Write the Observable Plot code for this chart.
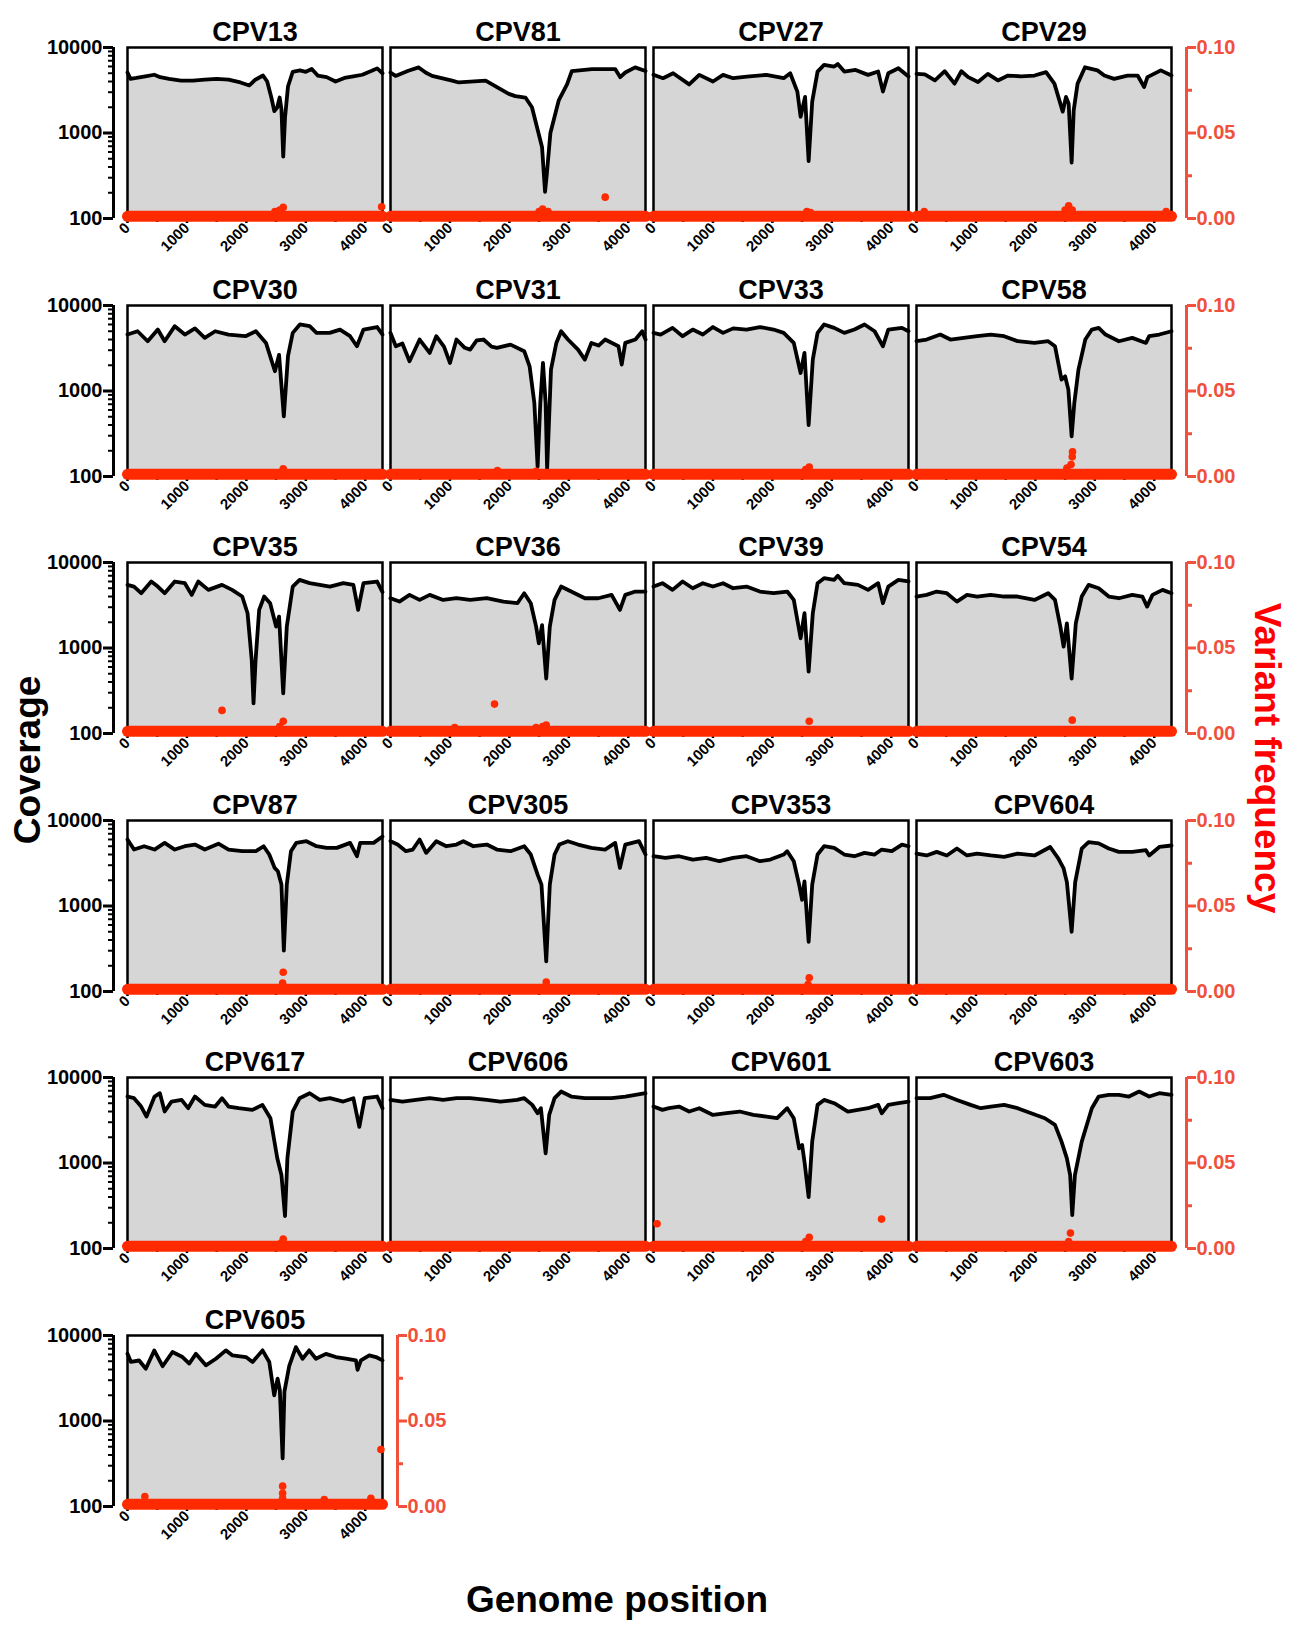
<!DOCTYPE html>
<html><head><meta charset="utf-8">
<script src="https://cdn.jsdelivr.net/npm/d3@7"></script>
<script src="https://cdn.jsdelivr.net/npm/@observablehq/plot@0.6"></script>
<style>
body{margin:0;background:#fff;}
#wrap{position:relative;width:1297px;height:1634px;overflow:hidden;font-family:"Liberation Sans",Arial,Helvetica,sans-serif;font-weight:bold;background:#fff;}
.p{position:absolute;}
.lab{position:absolute;white-space:nowrap;font-weight:bold;font-family:"Liberation Sans",Arial,Helvetica,sans-serif;}
</style></head><body><div id="wrap"></div>
<script>
// ---- coverage series: [genome position, coverage] ----
const CPV13 = [[0,5100],[50,4300],[150,4400],[300,4600],[450,4800],[550,4500],[700,4300],[900,4100],[1100,4100],[1300,4200],[1500,4300],[1700,4200],[1900,3900],[2050,3600],[2150,4200],[2280,4700],[2350,4000],[2420,2600],[2470,1800],[2520,2000],[2560,2600],[2590,1900],[2620,530],[2650,1500],[2700,3500],[2780,5200],[2900,5400],[3000,5200],[3100,5600],[3200,4700],[3350,4500],[3500,4000],[3650,4400],[3800,4600],[3950,4800],[4100,5300],[4200,5700],[4290,5000]];
const CPV81 = [[0,5100],[85,4650],[300,5350],[475,5850],[590,5100],[700,4650],[1036,4100],[1150,3900],[1600,4100],[1820,3350],[1990,2870],[2100,2700],[2270,2600],[2380,2000],[2465,1170],[2550,680],[2600,205],[2630,330],[2690,1000],[2830,2400],[2970,3700],[3050,5300],[3390,5600],[3780,5600],[3865,4500],[3950,5100],[4115,5850],[4290,5300]];
const CPV27 = [[0,4800],[160,4375],[330,5000],[600,3700],[770,4785],[1000,4000],[1170,4785],[1340,4375],[1570,4575],[1900,4785],[2190,4375],[2300,5000],[2420,3050],[2475,1550],[2550,2650],[2610,470],[2670,2330],[2760,5230],[2870,6270],[3040,5990],[3100,6400],[3210,5230],[3400,5470],[3610,4785],[3780,5230],[3860,3050],[3950,5000],[4120,5730],[4290,4575]];
const CPV29 = [[0,4920],[140,4850],[310,4120],[475,5280],[640,3780],[755,5280],[870,4500],[1035,3950],[1200,4920],[1370,4120],[1540,4700],[1760,4600],[1985,4700],[2180,5150],[2320,3780],[2460,1780],[2515,2640],[2560,2200],[2610,450],[2645,1850],[2710,3780],[2835,5870],[3045,5400],[3160,4700],[3325,4300],[3550,4700],[3720,4700],[3830,3450],[3885,4500],[4110,5400],[4290,4700]];
const CPV30 = [[0,4575],[170,5000],[340,3820],[510,5230],[625,3820],[795,5730],[965,4575],[1135,5400],[1300,4180],[1475,5000],[1700,4575],[1985,4375],[2160,5000],[2330,3650],[2480,1700],[2550,2650],[2630,505],[2700,2550],[2780,4785],[2900,6000],[3065,5730],[3180,4785],[3400,4785],[3575,5230],[3745,4375],[3860,3340],[3970,5230],[4200,5600],[4290,4575]];
const CPV31 = [[0,4785],[90,3340],[200,3600],[320,2230],[490,4000],[660,2790],[770,4375],[900,3300],[1000,2130],[1110,4000],[1250,3200],[1340,3050],[1450,3900],[1565,4000],[1700,3300],[1790,3190],[2020,3490],[2250,2920],[2340,1945],[2420,723],[2475,130],[2520,723],[2565,2130],[2610,723],[2635,120],[2700,1780],[2790,3650],[2870,5000],[2985,4000],[3155,3050],[3270,2330],[3380,3650],[3500,3400],[3610,4000],[3835,3340],[3890,2040],[3950,3650],[4120,4000],[4235,5000],[4290,4000]];
const CPV33 = [[0,4785],[120,4575],[320,5470],[490,4375],[660,5230],[830,4575],[1000,5600],[1170,4785],[1340,5400],[1565,5230],[1790,5600],[2020,5230],[2190,4785],[2360,3650],[2475,1625],[2540,2790],[2610,400],[2680,2330],[2760,4785],[2870,6000],[3040,5470],[3210,4785],[3380,5230],[3550,6000],[3720,5000],[3860,3340],[3950,5230],[4180,5470],[4290,5000]];
const CPV58 = [[0,3820],[170,4000],[400,4575],[570,4000],[795,4180],[1020,4375],[1250,4575],[1475,4375],[1700,3820],[1985,3650],[2215,3820],[2330,3340],[2440,1360],[2500,1485],[2555,1037],[2610,294],[2655,723],[2725,1780],[2840,4000],[2950,5230],[3065,5470],[3180,4575],[3405,3820],[3630,4180],[3860,3650],[3915,4375],[4085,4575],[4290,5000]];
const CPV35 = [[0,5470],[110,5230],[230,4375],[400,5990],[510,5230],[625,4375],[795,5990],[965,5730],[1080,4180],[1190,5990],[1360,4785],[1590,5470],[1760,4785],[1930,4000],[2020,2550],[2090,723],[2120,225],[2155,723],[2215,2790],[2300,4000],[2400,3340],[2500,1780],[2550,2330],[2620,294],[2680,1780],[2780,5230],[2895,6270],[3065,5730],[3235,5470],[3405,5230],[3630,5730],[3800,5470],[3880,2790],[3970,5730],[4200,5990],[4290,4500]];
const CPV36 = [[0,3820],[150,3490],[320,4180],[490,3650],[660,4180],[885,3650],[1110,3820],[1340,3650],[1620,3820],[1900,3490],[2135,3340],[2250,4375],[2360,3340],[2450,1780],[2495,1135],[2550,1850],[2620,440],[2680,1780],[2760,3650],[2870,5230],[3040,4575],[3270,3820],[3495,3820],[3720,4180],[3860,2790],[3950,4180],[4120,4575],[4290,4575]];
const CPV39 = [[0,5230],[150,5730],[320,4785],[490,5990],[660,5000],[830,5730],[1000,5230],[1170,5730],[1340,5000],[1565,5230],[1790,4575],[2020,4375],[2250,4575],[2360,3650],[2475,1300],[2540,2550],[2610,530],[2680,2550],[2760,5730],[2870,6550],[3040,6270],[3100,7000],[3210,5730],[3440,5470],[3610,4785],[3780,5730],[3860,3340],[3950,5230],[4120,6270],[4290,6000]];
const CPV54 = [[0,4000],[170,4180],[340,4575],[510,4375],[680,3490],[850,4180],[1020,4000],[1250,4180],[1475,4000],[1700,4000],[1985,3650],[2215,4375],[2330,3650],[2420,1780],[2475,1037],[2530,1945],[2610,440],[2680,1945],[2780,4000],[2895,5470],[3065,5000],[3235,4000],[3405,3820],[3630,4180],[3800,4000],[3880,3050],[3970,4180],[4140,4785],[4290,4375]];
const CPV87 = [[0,5990],[110,4575],[280,5000],[455,4575],[625,5470],[795,4575],[965,5000],[1135,5230],[1300,4575],[1530,5350],[1700,4575],[1930,4375],[2160,4375],[2290,5000],[2385,4000],[2475,2790],[2530,2550],[2590,1780],[2630,300],[2680,1780],[2750,4375],[2840,5470],[3010,5730],[3180,5000],[3350,4785],[3520,4785],[3745,5470],[3860,3820],[3915,5470],[4140,5470],[4290,6500]];
const CPV305 = [[0,5730],[120,5230],[260,4375],[375,4575],[490,5990],[600,4180],[770,5730],[940,5000],[1110,5230],[1225,5730],[1395,5000],[1620,5230],[1790,4575],[2020,4375],[2250,5000],[2360,4000],[2475,2330],[2540,1780],[2620,225],[2680,1780],[2760,4000],[2840,5230],[2985,5730],[3155,5230],[3380,4785],[3610,4575],[3780,5470],[3860,2790],[3950,5230],[4180,5730],[4290,4000]];
const CPV353 = [[0,3820],[200,3650],[430,3820],[660,3490],[885,3650],[1110,3340],[1340,3650],[1565,3820],[1790,3340],[1965,3490],[2190,4000],[2250,4375],[2360,3340],[2450,1780],[2500,1180],[2540,1945],[2610,380],[2670,1780],[2760,4000],[2870,5000],[3040,4785],[3210,4000],[3380,3820],[3550,4180],[3720,4000],[3840,4575],[4010,4375],[4180,5230],[4290,5000]];
const CPV604 = [[0,4100],[170,3900],[340,4300],[510,3900],[680,4700],[850,3900],[1020,4100],[1250,3900],[1475,3750],[1700,4100],[1985,3900],[2250,4900],[2385,3600],[2475,2750],[2530,1900],[2610,500],[2670,1900],[2780,4700],[2895,5600],[3065,5400],[3235,4700],[3405,4300],[3630,4300],[3860,4500],[3915,3900],[4085,4900],[4290,5100]];
const CPV617 = [[0,5990],[110,5730],[230,4575],[320,3490],[455,5990],[545,6550],[625,4000],[740,5230],[910,5470],[1020,4375],[1135,5990],[1300,4785],[1475,4575],[1590,5730],[1700,4575],[1870,4375],[2100,4180],[2270,4785],[2405,3340],[2520,1135],[2590,723],[2650,240],[2690,1135],[2780,4000],[2895,5730],[3065,6550],[3235,5470],[3405,5730],[3630,5230],[3800,5730],[3900,2650],[3990,5730],[4200,5990],[4290,4375]];
const CPV606 = [[0,5470],[200,5230],[430,5470],[660,5730],[885,5470],[1110,5730],[1340,5730],[1620,5470],[1850,5230],[2130,5470],[2250,5730],[2385,4785],[2475,3820],[2530,4375],[2610,1300],[2670,3650],[2760,5730],[2870,6850],[3040,5990],[3270,5730],[3495,5730],[3720,5730],[3950,5990],[4120,6270],[4290,6550]];
const CPV601 = [[0,4575],[150,4180],[260,4375],[430,4575],[600,4000],[770,4375],[1000,3650],[1225,3820],[1450,4000],[1680,3650],[1900,3490],[2080,3340],[2250,4375],[2360,3340],[2450,1485],[2500,1625],[2540,1037],[2610,400],[2670,1780],[2760,4785],[2870,5470],[3040,5000],[3270,4000],[3440,4180],[3610,4375],[3780,4785],[3840,3820],[3950,4785],[4120,5000],[4290,5230]];
const CPV603 = [[0,5730],[230,5730],[455,6270],[680,5470],[910,4785],[1080,4375],[1250,4575],[1475,4785],[1700,4375],[1930,3820],[2160,3340],[2330,2790],[2440,1780],[2530,1135],[2585,723],[2620,246],[2665,723],[2780,1780],[2950,4375],[3065,5990],[3235,6270],[3405,6270],[3575,5990],[3745,6850],[3915,5990],[4085,6550],[4290,6270]];
const CPV605 = [[0,6110],[56,4930],[196,5100],[308,4090],[450,6690],[590,4370],[757,6410],[925,5600],[1040,4700],[1150,6100],[1318,4480],[1487,5350],[1655,6700],[1767,5850],[1992,5600],[2104,4900],[2272,6700],[2385,4900],[2468,2000],[2525,3130],[2563,2300],[2610,365],[2640,2200],[2720,4370],[2833,7320],[2945,5350],[3057,6700],[3170,5350],[3338,6100],[3506,5600],[3675,5350],[3843,5120],[3870,3970],[3927,5120],[4067,5850],[4180,5600],[4290,5120]];

// ---- variant frequency points above the baseline band: [genome position, frequency] ----
const CPV13_v = [[2480,0.004],[2560,0.005],[2620,0.0065],[4275,0.0068]];
const CPV81_v = [[2500,0.004],[2560,0.0055],[2650,0.004],[3612,0.0125]];
const CPV27_v = [[2580,0.004],[2640,0.0035]];
const CPV29_v = [[130,0.004],[2500,0.005],[2560,0.0075],[2620,0.005],[4200,0.004]];
const CPV30_v = [[2620,0.0045]];
const CPV31_v = [[1800,0.0035],[2450,0.003]];
const CPV33_v = [[2560,0.004],[2620,0.0055]];
const CPV58_v = [[2530,0.005],[2600,0.007],[2620,0.0115],[2625,0.0145]];
const CPV35_v = [[1590,0.0135],[2560,0.004],[2620,0.0072]];
const CPV36_v = [[1080,0.0035],[1750,0.0172],[2450,0.0035],[2560,0.004],[2620,0.005]];
const CPV39_v = [[2620,0.0072]];
const CPV54_v = [[2620,0.0078]];
const CPV87_v = [[2610,0.005],[2620,0.0113]];
const CPV305_v = [[2620,0.0055]];
const CPV353_v = [[2600,0.004],[2620,0.008]];
const CPV604_v = [];
const CPV617_v = [[2580,0.003],[2620,0.0055]];
const CPV606_v = [];
const CPV601_v = [[60,0.0145],[2560,0.004],[2620,0.0065],[3836,0.0172]];
const CPV603_v = [[2560,0.004],[2590,0.009]];
const CPV605_v = [[292,0.0058],[2610,0.0048],[2610,0.0077],[2610,0.0119],[3310,0.004],[4095,0.0048],[4263,0.0333]];

// baseline band of low-frequency variants (dense dots near 0)
const bandPos = [0, 4290];
const bandFreq = [0.0013, 0.0013];

const names = ["CPV13","CPV81","CPV27","CPV29","CPV30","CPV31","CPV33","CPV58","CPV35","CPV36","CPV39","CPV54","CPV87","CPV305","CPV353","CPV604","CPV617","CPV606","CPV601","CPV603","CPV605"];
const covSeries = [CPV13,CPV81,CPV27,CPV29,CPV30,CPV31,CPV33,CPV58,CPV35,CPV36,CPV39,CPV54,CPV87,CPV305,CPV353,CPV604,CPV617,CPV606,CPV601,CPV603,CPV605];
const varSeries = [CPV13_v,CPV81_v,CPV27_v,CPV29_v,CPV30_v,CPV31_v,CPV33_v,CPV58_v,CPV35_v,CPV36_v,CPV39_v,CPV54_v,CPV87_v,CPV305_v,CPV353_v,CPV604_v,CPV617_v,CPV606_v,CPV601_v,CPV603_v,CPV605_v];

const xTicks = [0,1000,2000,3000,4000];
const xMinor = [500,1500,2500,3500];
const covTicks = [100,1000,10000];
const covMinor = [200,300,400,500,600,700,800,900,2000,3000,4000,5000,6000,7000,8000,9000];
const freqTicks = [0,0.05,0.1];
const freqMinor = [0.025,0.075];
const xMax = 4290;

const GREY = "#d6d6d6", DOT = "#ff2a00", AXRED = "#f0503c";
const FONT = "'Liberation Sans', Arial, Helvetica, sans-serif";
const W = 255, H = 171, ML = 90, MR = 90, MT = 45, MB = 55;
const wrap = document.getElementById("wrap");
const band = bandPos.map((p, k) => [p, bandFreq[k]]);

names.forEach((name, i) => {
  const c = i % 4, r = Math.floor(i / 4);
  const L = 127 + c * 263, T = 47 + r * 257.6;
  const last = i === names.length - 1;
  const showL = c === 0 || last, showR = c === 3 || last;
  const common = {
    width: W + ML + MR, height: H + MT + MB,
    marginLeft: ML, marginRight: MR, marginTop: MT, marginBottom: MB,
    style: {background: "transparent", fontFamily: FONT, overflow: "visible", fontWeight: "bold"},
    x: {domain: [0, xMax], axis: null}
  };
  const data = covSeries[i];
  const covMarks = [
    Plot.areaY(data, {x: d => d[0], y1: 100, y2: d => d[1], fill: GREY}),
    Plot.lineY(data, {x: d => d[0], y: d => d[1], stroke: "black", strokeWidth: 3.8, strokeLinejoin: "round", strokeLinecap: "round"}),
    Plot.frame({stroke: "black", strokeWidth: 2.5}),
    Plot.axisX(xTicks, {anchor: "bottom", tickSize: 5, tickPadding: 2, tickRotate: -45, fontSize: 15, fontWeight: "bold", strokeWidth: 2.5, tickFormat: d => String(d)}),
    Plot.axisX(xMinor, {anchor: "bottom", tickSize: 4, strokeWidth: 2.5, tickFormat: () => ""}),
    Plot.text([name], {text: d => d, frameAnchor: "top", dy: -7, lineAnchor: "bottom", fontSize: 27, fontWeight: "bold", fill: "black"})
  ];
  if (showL) {
    covMarks.push(
      Plot.ruleX([0], {x: d => d, y1: 100, y2: 10000, dx: -14, stroke: "black", strokeWidth: 3}),
      Plot.axisY(covTicks, {anchor: "left", tickSize: 10, tickPadding: 1, dx: -14, strokeWidth: 3, fontSize: 20, fontWeight: "bold", tickFormat: d => String(d)}),
      Plot.axisY(covMinor, {anchor: "left", tickSize: 5, dx: -14, strokeWidth: 2, tickFormat: () => ""})
    );
  }
  const covPlot = Plot.plot({...common, y: {type: "log", domain: [100, 10000], axis: null}, marks: covMarks});

  const fMarks = [
    Plot.lineY(band, {x: d => d[0], y: d => d[1], stroke: DOT, strokeWidth: 11, strokeLinecap: "round"}),
    Plot.dot(varSeries[i], {x: d => d[0], y: d => d[1], r: 3.8, fill: DOT})
  ];
  if (showR) {
    fMarks.push(
      Plot.ruleX([xMax], {x: d => d, y1: 0, y2: 0.1, dx: 15, stroke: AXRED, strokeWidth: 3}),
      Plot.axisY(freqTicks, {anchor: "right", tickSize: 9, tickPadding: 1, dx: 15, color: AXRED, strokeWidth: 3, fontSize: 20, fontWeight: "bold", tickFormat: d3.format(".2f")}),
      Plot.axisY(freqMinor, {anchor: "right", tickSize: 5, dx: 15, color: AXRED, strokeWidth: 3, tickFormat: () => ""})
    );
  }
  const fPlot = Plot.plot({...common, y: {domain: [0, 0.1], axis: null}, marks: fMarks});

  [covPlot, fPlot].forEach(svg => {
    const d = document.createElement("div");
    d.className = "p";
    d.style.left = (L - ML) + "px";
    d.style.top = (T - MT) + "px";
    d.appendChild(svg);
    wrap.appendChild(d);
  });
});

function label(txt, cx, cy, size, color, rot) {
  const d = document.createElement("div");
  d.className = "lab";
  d.textContent = txt;
  d.style.left = cx + "px";
  d.style.top = cy + "px";
  d.style.fontSize = size + "px";
  d.style.color = color;
  d.style.transform = `translate(-50%,-50%) rotate(${rot}deg)`;
  wrap.appendChild(d);
}
label("Coverage", 28, 760, 37, "#000", -90);
label("Variant frequency", 1267, 758, 37, "#ff0000", 90);
label("Genome position", 617, 1600, 37, "#000", 0);
</script></body></html>
